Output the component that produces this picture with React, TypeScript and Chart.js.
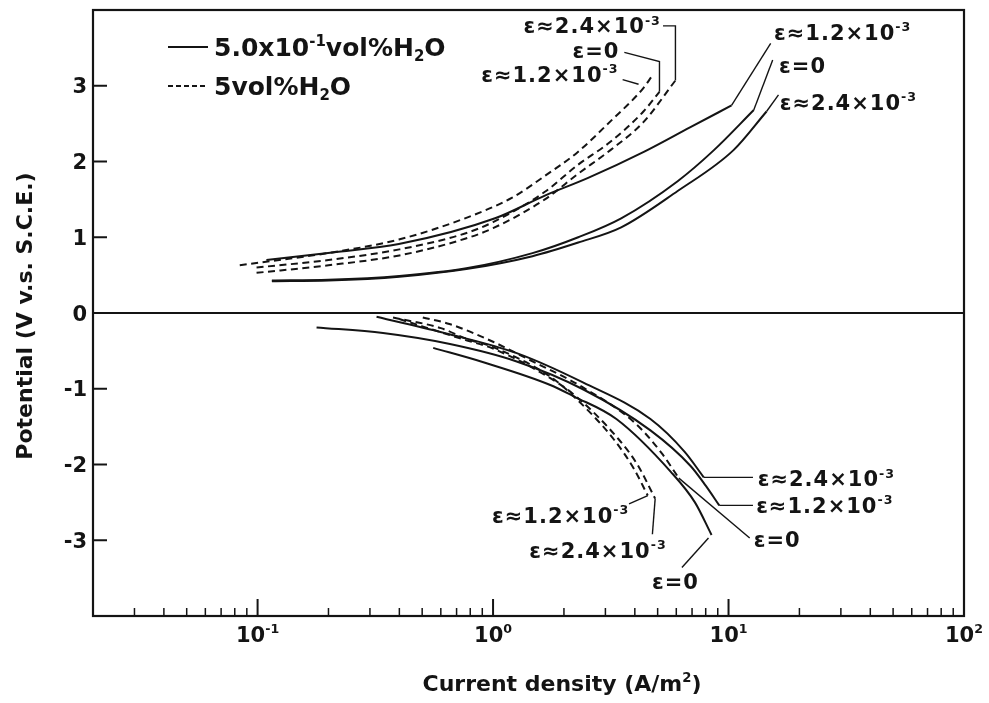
import React, { useEffect, useRef } from 'react';
import { Chart, registerables } from 'chart.js';

Chart.register(...registerables);

// ---------- Anodic branch, 5.0x10^-1 vol% H2O (solid lines) ----------
const anSolidE12I = [0.109, 0.208, 0.398, 1.02, 1.66, 2.52, 4.39, 6.86, 10.3];
const anSolidE12V = [0.70, 0.80, 0.91, 1.25, 1.55, 1.78, 2.13, 2.45, 2.74];
const anSolidE0I = [0.115, 0.2, 0.4, 0.77, 1.47, 2.3, 3.5, 6.08, 8.67, 12.8];
const anSolidE0V = [0.43, 0.44, 0.49, 0.59, 0.79, 1.0, 1.25, 1.74, 2.15, 2.68];
const anSolidE24I = [0.115, 0.2, 0.4, 0.77, 1.47, 2.3, 3.5, 6.08, 10.5, 14.5];
const anSolidE24V = [0.42, 0.43, 0.48, 0.58, 0.75, 0.93, 1.13, 1.61, 2.15, 2.66];

// ---------- Anodic branch, 5 vol% H2O (dashed lines) ----------
const anDashE12I = [0.084, 0.207, 0.398, 0.76, 1.2, 1.66, 2.28, 3.15, 4.35, 4.71];
const anDashE12V = [0.63, 0.80, 0.97, 1.25, 1.52, 1.81, 2.12, 2.53, 2.97, 3.12];
const anDashE0I = [0.099, 0.2, 0.4, 0.76, 1.0, 1.66, 2.28, 3.15, 4.35, 5.09];
const anDashE0V = [0.60, 0.70, 0.84, 1.05, 1.2, 1.60, 1.95, 2.26, 2.66, 2.92];
const anDashE24I = [0.099, 0.2, 0.4, 0.76, 1.0, 1.66, 2.28, 3.15, 4.35, 5.95];
const anDashE24V = [0.53, 0.63, 0.76, 0.98, 1.12, 1.50, 1.83, 2.15, 2.52, 3.07];

// ---------- Cathodic branch, 5.0x10^-1 vol% H2O (solid lines) ----------
const caSolidAI = [0.178, 0.341, 0.656, 1.26, 2.42, 4.66, 6.9, 8.0, 9.13];
const caSolidAV = [-0.19, -0.265, -0.41, -0.64, -1.01, -1.55, -2.02, -2.28, -2.54];
const caSolidBI = [0.32, 0.653, 1.26, 2.42, 4.66, 6.5, 7.85];
const caSolidBV = [-0.05, -0.28, -0.53, -0.92, -1.40, -1.83, -2.17];
const caSolidCI = [0.557, 0.91, 1.75, 2.2, 3.34, 5.7, 7.2, 8.47];
const caSolidCV = [-0.46, -0.65, -0.95, -1.10, -1.40, -2.1, -2.5, -2.93];

// ---------- Cathodic branch, 5 vol% H2O (dashed lines) ----------
const caDashE0I = [0.503, 0.653, 1.0, 1.39, 2.4, 4.0, 5.2, 6.15];
const caDashE0V = [-0.06, -0.145, -0.38, -0.60, -0.98, -1.45, -1.85, -2.18];
const caDashE12I = [0.376, 0.6, 0.77, 1.0, 1.75, 2.2, 3.26, 3.97, 4.54];
const caDashE12V = [-0.06, -0.2, -0.34, -0.45, -0.84, -1.10, -1.67, -2.06, -2.41];
const caDashE24I = [0.40, 0.77, 1.0, 1.75, 2.25, 3.4, 4.1, 4.88];
const caDashE24V = [-0.08, -0.36, -0.47, -0.86, -1.10, -1.66, -2.0, -2.45];

// ---------- Annotation leaders (current, potential) ----------
const leaderI = [
  [10.3, 15.1], [12.8, 15.4], [14.5, 16.3],
  [5.95, 5.95, 5.27], [5.09, 5.09, 3.61], [4.15, 3.55],
  [7.85, 12.7], [9.13, 12.7], [6.15, 12.3],
  [4.54, 3.78], [4.88, 4.75], [8.22, 6.34],
];
const leaderV = [
  [2.74, 3.56], [2.68, 3.34], [2.66, 2.88],
  [3.07, 3.79, 3.79], [2.92, 3.32, 3.44], [3.02, 3.08],
  [-2.17, -2.17], [-2.54, -2.54], [-2.18, -2.97],
  [-2.41, -2.52], [-2.45, -2.92], [-2.97, -3.36],
];

// ---------- Annotation labels ----------
const labelTexts = [
  'ε≈1.2×10^{-3}', 'ε=0', 'ε≈2.4×10^{-3}',
  'ε≈2.4×10^{-3}', 'ε=0', 'ε≈1.2×10^{-3}',
  'ε≈2.4×10^{-3}', 'ε≈1.2×10^{-3}', 'ε=0',
  'ε≈1.2×10^{-3}', 'ε≈2.4×10^{-3}', 'ε=0',
];
const labelI = [15.6, 16.4, 16.5, 5.16, 3.44, 3.41, 13.3, 13.1, 12.8, 3.79, 5.46, 4.73];
const labelV = [3.70, 3.27, 2.78, 3.79, 3.46, 3.15, -2.19, -2.54, -2.99, -2.67, -3.13, -3.55];
const labelAlign = ['left', 'left', 'left', 'right', 'right', 'right', 'left', 'left', 'left', 'right', 'right', 'left'];

// ---------- Axes ----------
const yTickValues = [-3, -2, -1, 0, 1, 2, 3];
const yTickLabels = ['-3', '-2', '-1', '0', '1', '2', '3'];
const xDecadeValues = [0.1, 1, 10, 100];
const xDecadeExponents = ['-1', '0', '1', '2'];
const legendTexts = ['5.0x10^{-1}vol%H_{2}O', '5vol%H_{2}O'];
const xTitle = 'Current density (A/m^{2})';
const yTitle = 'Potential (V v.s. S.C.E.)';

const INK = '#141414';
const FONT = '"DejaVu Sans", "Liberation Sans", sans-serif';

type Part = { t: string; k: number };
function parseRich(s: string): Part[] {
  const out: Part[] = [];
  const re = /\^\{([^}]*)\}|_\{([^}]*)\}|([^^_]+)/g;
  let m: RegExpExecArray | null;
  while ((m = re.exec(s))) {
    if (m[1] !== undefined) out.push({ t: m[1], k: 1 });
    else if (m[2] !== undefined) out.push({ t: m[2], k: 2 });
    else out.push({ t: m[3], k: 0 });
  }
  return out;
}

function drawRich(ctx: CanvasRenderingContext2D, s: string, x: number, yc: number, align: string, size: number, spacing = 0) {
  const parts = parseRich(s);
  const small = size * 0.6;
  (ctx as any).letterSpacing = spacing + 'px';
  let total = 0;
  const widths = parts.map((p) => {
    ctx.font = `bold ${p.k ? small : size}px ${FONT}`;
    const w = ctx.measureText(p.t).width;
    total += w;
    return w;
  });
  let cx = align === 'left' ? x : align === 'right' ? x - total : x - total / 2;
  const base = yc + 0.36 * size;
  ctx.textAlign = 'left';
  ctx.textBaseline = 'alphabetic';
  parts.forEach((p, i) => {
    ctx.font = `bold ${p.k ? small : size}px ${FONT}`;
    const yb = p.k === 1 ? base - 0.42 * size : p.k === 2 ? base + 0.2 * size : base;
    ctx.fillText(p.t, cx, yb);
    cx += widths[i];
  });
  (ctx as any).letterSpacing = '0px';
}

function seg(ctx: CanvasRenderingContext2D, x1: number, y1: number, x2: number, y2: number) {
  ctx.beginPath();
  ctx.moveTo(x1, y1);
  ctx.lineTo(x2, y2);
  ctx.stroke();
}

const decoPlugin = {
  id: 'deco',
  afterDatasetsDraw(chart: any) {
    const { ctx, chartArea: a, scales } = chart;
    const xs = scales.x;
    const ys = scales.y;
    ctx.save();
    ctx.strokeStyle = INK;
    ctx.fillStyle = INK;
    ctx.setLineDash([]);
    // frame
    ctx.lineWidth = 2.2;
    ctx.strokeRect(a.left, a.top, a.right - a.left, a.bottom - a.top);
    // zero line
    const y0 = ys.getPixelForValue(0);
    ctx.lineWidth = 2.2;
    seg(ctx, a.left, y0, a.right, y0);
    // y ticks (inward) and labels
    ctx.lineWidth = 2;
    yTickValues.forEach((v, i) => {
      const py = ys.getPixelForValue(v);
      seg(ctx, a.left, py, a.left + 14, py);
      drawRich(ctx, yTickLabels[i], a.left - 6, py, 'right', 21);
    });
    // x minor ticks
    ctx.lineWidth = 1.5;
    for (let k = -2; k <= 1; k++) {
      for (let m = 2; m <= 9; m++) {
        const v = m * Math.pow(10, k);
        if (v <= xs.min * 1.0001 || v >= xs.max) continue;
        const px = xs.getPixelForValue(v);
        seg(ctx, px, a.bottom, px, a.bottom - 8);
      }
    }
    // x major ticks and labels
    ctx.lineWidth = 2;
    xDecadeValues.forEach((v, i) => {
      const px = xs.getPixelForValue(v);
      seg(ctx, px, a.bottom, px, a.bottom - 17);
      drawRich(ctx, '10^{' + xDecadeExponents[i] + '}', px, a.bottom + 18, 'center', 21);
    });
    // axis titles
    drawRich(ctx, xTitle, a.left + 469, a.bottom + 67, 'center', 22);
    ctx.save();
    ctx.translate(24, (a.top + a.bottom) / 2 + 3);
    ctx.rotate(-Math.PI / 2);
    drawRich(ctx, yTitle, 0, 0, 'center', 22);
    ctx.restore();
    // legend
    const lx1 = a.left + 75;
    const lx2 = a.left + 115;
    ctx.lineWidth = 1.9;
    seg(ctx, lx1, a.top + 37, lx2, a.top + 37);
    ctx.setLineDash([5, 3]);
    seg(ctx, lx1, a.top + 76, lx2, a.top + 76);
    ctx.setLineDash([]);
    drawRich(ctx, legendTexts[0], a.left + 121, a.top + 37, 'left', 25);
    drawRich(ctx, legendTexts[1], a.left + 121, a.top + 76, 'left', 25);
    // curve labels
    labelTexts.forEach((t, i) => {
      const px = xs.getPixelForValue(labelI[i]);
      const py = ys.getPixelForValue(labelV[i]);
      drawRich(ctx, t, px, py, labelAlign[i], 21, 1);
    });
    ctx.restore();
  },
};

function curve(xs: number[], ys: number[], dashed: boolean) {
  return {
    data: xs.map((x, i) => ({ x, y: ys[i] })),
    showLine: true,
    borderColor: INK,
    borderWidth: 2,
    borderDash: dashed ? [7, 4.5] : [],
    pointRadius: 0,
    pointHoverRadius: 0,
    cubicInterpolationMode: 'monotone',
    fill: false,
  };
}

function leader(xs: number[], ys: number[]) {
  return {
    data: xs.map((x, i) => ({ x, y: ys[i] })),
    showLine: true,
    borderColor: INK,
    borderWidth: 1.4,
    pointRadius: 0,
    pointHoverRadius: 0,
    tension: 0,
    fill: false,
  };
}

export default function App() {
  const ref = useRef<HTMLCanvasElement>(null);
  useEffect(() => {
    const canvas = ref.current;
    if (!canvas) return;
    const datasets: any[] = [
      curve(anSolidE12I, anSolidE12V, false),
      curve(anSolidE0I, anSolidE0V, false),
      curve(anSolidE24I, anSolidE24V, false),
      curve(anDashE12I, anDashE12V, true),
      curve(anDashE0I, anDashE0V, true),
      curve(anDashE24I, anDashE24V, true),
      curve(caSolidAI, caSolidAV, false),
      curve(caSolidBI, caSolidBV, false),
      curve(caSolidCI, caSolidCV, false),
      curve(caDashE0I, caDashE0V, true),
      curve(caDashE12I, caDashE12V, true),
      curve(caDashE24I, caDashE24V, true),
      ...leaderI.map((xs, i) => leader(xs, leaderV[i])),
    ];
    const chart = new Chart(canvas, {
      type: 'scatter',
      data: { datasets },
      options: {
        animation: false,
        responsive: false,
        devicePixelRatio: 1,
        layout: { padding: { top: 10, right: 25, left: 0, bottom: 0 } },
        plugins: { legend: { display: false }, tooltip: { enabled: false } },
        scales: {
          x: {
            type: 'logarithmic',
            min: 0.02,
            max: 100,
            grid: { display: false },
            border: { display: false },
            ticks: { display: false },
            afterFit: (s: any) => { s.height = 87; },
          },
          y: {
            type: 'linear',
            min: -4,
            max: 4,
            grid: { display: false },
            border: { display: false },
            ticks: { display: false },
            afterFit: (s: any) => { s.width = 93; },
          },
        },
      } as any,
      plugins: [decoPlugin],
    });
    return () => chart.destroy();
  }, []);
  return (
    <div style={{ position: 'fixed', left: 0, top: 0, width: 989, height: 703, background: '#fff' }}>
      <canvas ref={ref} width={989} height={703} style={{ display: 'block' }} />
    </div>
  );
}
